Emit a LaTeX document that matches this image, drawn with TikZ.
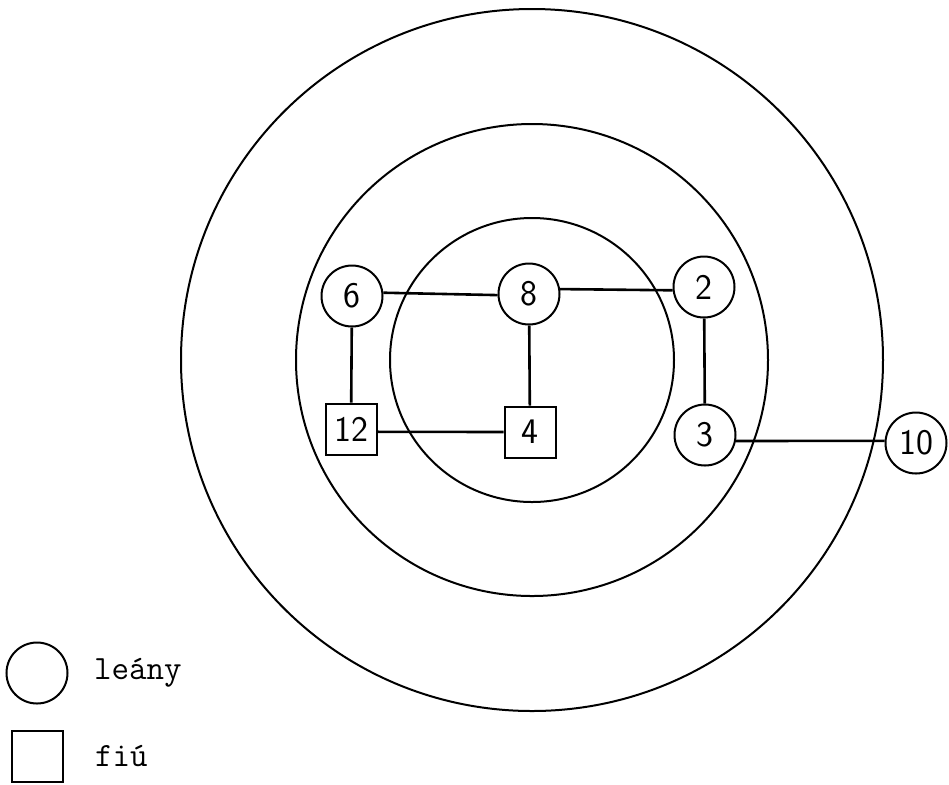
\documentclass[tikz,border=0pt]{standalone}
\usepackage{fontspec}
\usetikzlibrary{positioning}

\begin{document}
\begin{tikzpicture}[
    x=0.5pt,y=-0.5pt,
    line width=1pt,
    lany/.style={draw,circle,inner sep=0pt,minimum size=30.5pt,font=\sffamily\fontsize{18}{18}\selectfont},
    fiu/.style={draw,rectangle,inner sep=0pt,minimum size=25.5pt,font=\sffamily\fontsize{18}{18}\selectfont},
    kapcs/.style={line width=1.3pt},
    jel/.style={font=\ttfamily\fontsize{17}{17}\selectfont}
]
\useasboundingbox (0,0) rectangle (949,784);

% rings
\coordinate (O) at (532,360);
\draw (O) circle[radius=175.5pt];
\draw (O) circle[radius=118pt];
\draw (O) circle[radius=71pt];

\node[lany] (n6) at (352,296) {6};
\node[lany] (n8) at (529,294) {8};
\node[lany] (n2) at (704,287) {2};
\node[fiu] (n12) at (351,429) {12};
\node[fiu] (n4) at (530,432) {4};
\node[lany] (n3) at (705,435) {3};
\node[lany] (n10) at (916,443) {10};

\draw[kapcs] (n6.6) -- (n8.182);
\draw[kapcs] (n8.9) -- (n2.186);
\draw[kapcs] (n6) -- (n12);
\draw[kapcs] (n8) -- (n4);
\draw[kapcs] (n12.-6) -- (n4.west);
\draw[kapcs] (n2) -- (n3);
\draw[kapcs] (n3.349) -- (n10.176);

% legend
\node[lany] (jl) at (37,673) {};
\node[jel,right=9pt of jl] (jlt) {leány};
\node[fiu] (jf) at (37,756) {};
\node[jel,right=12pt of jf] (jft) {fiú};
\end{tikzpicture}
\end{document}
